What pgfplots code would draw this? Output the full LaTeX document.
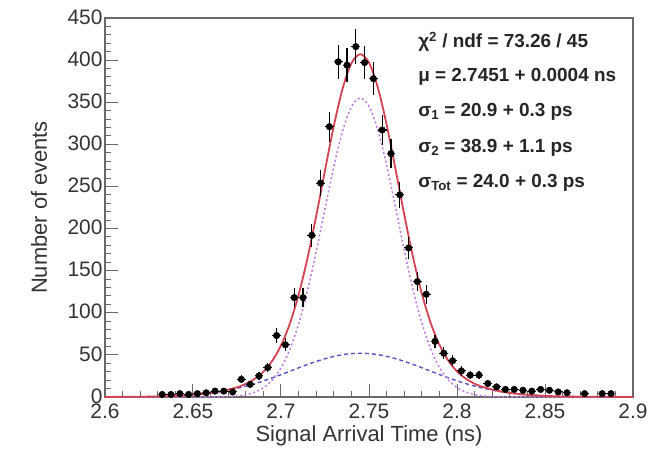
\documentclass[border=0pt]{standalone}
\usepackage{fontspec}
\setmainfont{Liberation Sans}
\usepackage{pgfplots}
\usepackage{pgfplotstable}
\pgfplotsset{compat=1.18}

\definecolor{fitred}{RGB}{214,66,82}
\definecolor{narrowmag}{RGB}{196,120,226}
\definecolor{widblue}{RGB}{84,84,196}
\definecolor{framegray}{RGB}{105,105,105}

% measured bins: centre, counts, half bin width, sqrt(counts)
\pgfplotstableread{
t      n    ex      ey
2.6325 3    0.0025  1.7
2.6375 3    0.0025  1.7
2.6425 4    0.0025  2.0
2.6475 3    0.0025  1.7
2.6525 4    0.0025  2.0
2.6575 5    0.0025  2.2
2.6625 7    0.0025  2.6
2.6675 7    0.0025  2.6
2.6725 6    0.0025  2.4
2.6775 21   0.0025  4.6
2.6825 15   0.0025  3.9
2.6875 25   0.0025  5.0
2.6925 35   0.0025  5.9
2.6975 73   0.0025  8.5
2.7025 62   0.0025  7.9
2.7075 118  0.0025  10.9
2.7125 118  0.0025  10.9
2.7175 192  0.0025  13.9
2.7225 254  0.0025  15.9
2.7275 321  0.0025  17.9
2.7325 398  0.0025  19.9
2.7375 394  0.0025  19.8
2.7425 416  0.0025  20.4
2.7475 397  0.0025  19.9
2.7525 378  0.0025  19.4
2.7575 317  0.0025  17.8
2.7625 289  0.0025  17.0
2.7675 240  0.0025  15.5
2.7725 177  0.0025  13.3
2.7775 137  0.0025  11.7
2.7825 122  0.0025  11.0
2.7875 66   0.0025  8.1
2.7925 52   0.0025  7.2
2.7975 43   0.0025  6.6
2.8025 31   0.0025  5.6
2.8075 26   0.0025  5.1
2.8125 26   0.0025  5.1
2.8175 16   0.0025  4.0
2.8225 12   0.0025  3.5
2.8275 9    0.0025  3.0
2.8325 9    0.0025  3.0
2.8375 8    0.0025  2.8
2.8425 7    0.0025  2.6
2.8475 9    0.0025  3.0
2.8525 8    0.0025  2.8
2.8575 6    0.0025  2.4
2.8625 5    0.0025  2.2
2.8725 4    0.0025  2.0
2.8825 4    0.0025  2.0
2.8875 4    0.0025  2.0
}\events

% total fit curve
\pgfplotstableread{
t      n
2.6000 0.05
2.6251 0.45
2.6351 0.95
2.6451 1.91
2.6551 3.61
2.6651 6.51
2.6751 11.6
2.6801 15.7
2.6851 21.6
2.6901 30.2
2.6951 43.1
2.7001 61.6
2.7051 87.6
2.7101 122.1
2.7151 165.3
2.7201 215.9
2.7251 270.2
2.7301 322.7
2.7351 366.9
2.7401 396.6
2.7451 407.0
2.7501 396.6
2.7551 366.9
2.7601 322.7
2.7651 270.2
2.7701 215.9
2.7751 165.3
2.7801 122.1
2.7851 87.6
2.7901 61.6
2.7951 43.1
2.8001 30.2
2.8051 21.6
2.8101 15.7
2.8151 11.6
2.8251 6.51
2.8351 3.61
2.8451 1.91
2.8551 0.95
2.8651 0.45
2.9000 0.02
}\fittot

% narrow component
\pgfplotstableread{
t      n
2.6000 0
2.6400 0
2.6551 0.03
2.6651 0.23
2.6751 1.30
2.6801 2.82
2.6851 5.76
2.6901 11.1
2.6951 20.3
2.7001 35.0
2.7051 56.9
2.7101 87.4
2.7151 126.7
2.7201 173.6
2.7251 224.6
2.7301 274.4
2.7351 316.6
2.7401 345.0
2.7451 355.0
2.7501 345.0
2.7551 316.6
2.7601 274.4
2.7651 224.6
2.7701 173.6
2.7751 126.7
2.7801 87.4
2.7851 56.9
2.7901 35.0
2.7951 20.3
2.8001 11.1
2.8051 5.76
2.8101 2.82
2.8151 1.30
2.8251 0.23
2.8351 0.03
2.8500 0
2.9000 0
}\fitone

% wide component
\pgfplotstableread{
t      n
2.6000 0.05
2.6251 0.45
2.6351 0.95
2.6451 1.91
2.6551 3.58
2.6651 6.28
2.6751 10.30
2.6851 15.83
2.6951 22.77
2.7051 30.65
2.7151 38.63
2.7251 45.56
2.7351 50.31
2.7451 52.0
2.7551 50.31
2.7651 45.56
2.7751 38.63
2.7851 30.65
2.7951 22.77
2.8051 15.83
2.8151 10.30
2.8251 6.28
2.8351 3.58
2.8451 1.91
2.8551 0.95
2.8651 0.45
2.9000 0.02
}\fittwo

\begin{document}
\begin{tikzpicture}
\begin{axis}[
  at={(0,0)}, anchor=south west,
  scale only axis, width=528bp, height=379bp,
  xmin=2.6, xmax=2.9, ymin=0, ymax=450,
  xtick={2.6,2.65,2.7,2.75,2.8,2.85,2.9},
  ytick={0,50,100,150,200,250,300,350,400,450},
  minor x tick num=4, minor y tick num=4,
  scaled ticks=false,
  tick align=inside, tick pos=left,
  major tick length=13bp, minor tick length=6.5bp,
  axis line style={framegray, line width=1.1bp},
  every tick/.style={framegray, line width=1bp},
  /pgf/number format/assume math mode=true,
  ticklabel style={font=\fontsize{21}{21}\selectfont, text=black!80},
  xticklabel style={yshift=-3bp},
  yticklabel style={xshift=1bp, yshift=1bp},
  xlabel={Signal Arrival Time (ns)},
  ylabel={Number of events},
  label style={font=\fontsize{22}{22}\selectfont, text=black!80},
  xlabel style={at={(axis description cs:0.5,-0.102)}, anchor=center},
  ylabel style={at={(axis description cs:-0.125,0.5)}, anchor=center},
]
\addplot[widblue, line width=1.4bp, dash pattern=on 4bp off 3bp, smooth] table[x=t, y=n] {\fittwo};
\addplot[narrowmag, line width=1.5bp, dash pattern=on 2bp off 2.5bp, smooth] table[x=t, y=n] {\fitone};
\addplot[fitred, line width=1.8bp, smooth] table[x=t, y=n] {\fittot};
\addplot[only marks, mark=*, mark size=3.3bp, black,
  error bars/.cd, x dir=both, x explicit, y dir=both, y explicit,
  error mark=none, error bar style={line width=1.1bp, black}]
  table[x=t, y=n, x error=ex, y error=ey] {\events};

\begin{scope}[every node/.style={anchor=west, font=\bfseries\fontsize{19}{19}\selectfont, text=black!85, inner sep=0pt}]
\node at (rel axis cs:0.593,0.9375) {χ\textsuperscript{2} / ndf = 73.26 / 45};
\node at (rel axis cs:0.593,0.845) {μ = 2.7451 + 0.0004 ns};
\node at (rel axis cs:0.593,0.753) {σ\textsubscript{1} = 20.9 + 0.3 ps};
\node at (rel axis cs:0.593,0.657) {σ\textsubscript{2} = 38.9 + 1.1 ps};
\node at (rel axis cs:0.593,0.565) {σ\textsubscript{Tot} = 24.0 + 0.3 ps};
\end{scope}
\end{axis}
\pgfresetboundingbox
\path (-105bp,-62bp) rectangle (561bp,397bp);
\end{tikzpicture}
\end{document}
